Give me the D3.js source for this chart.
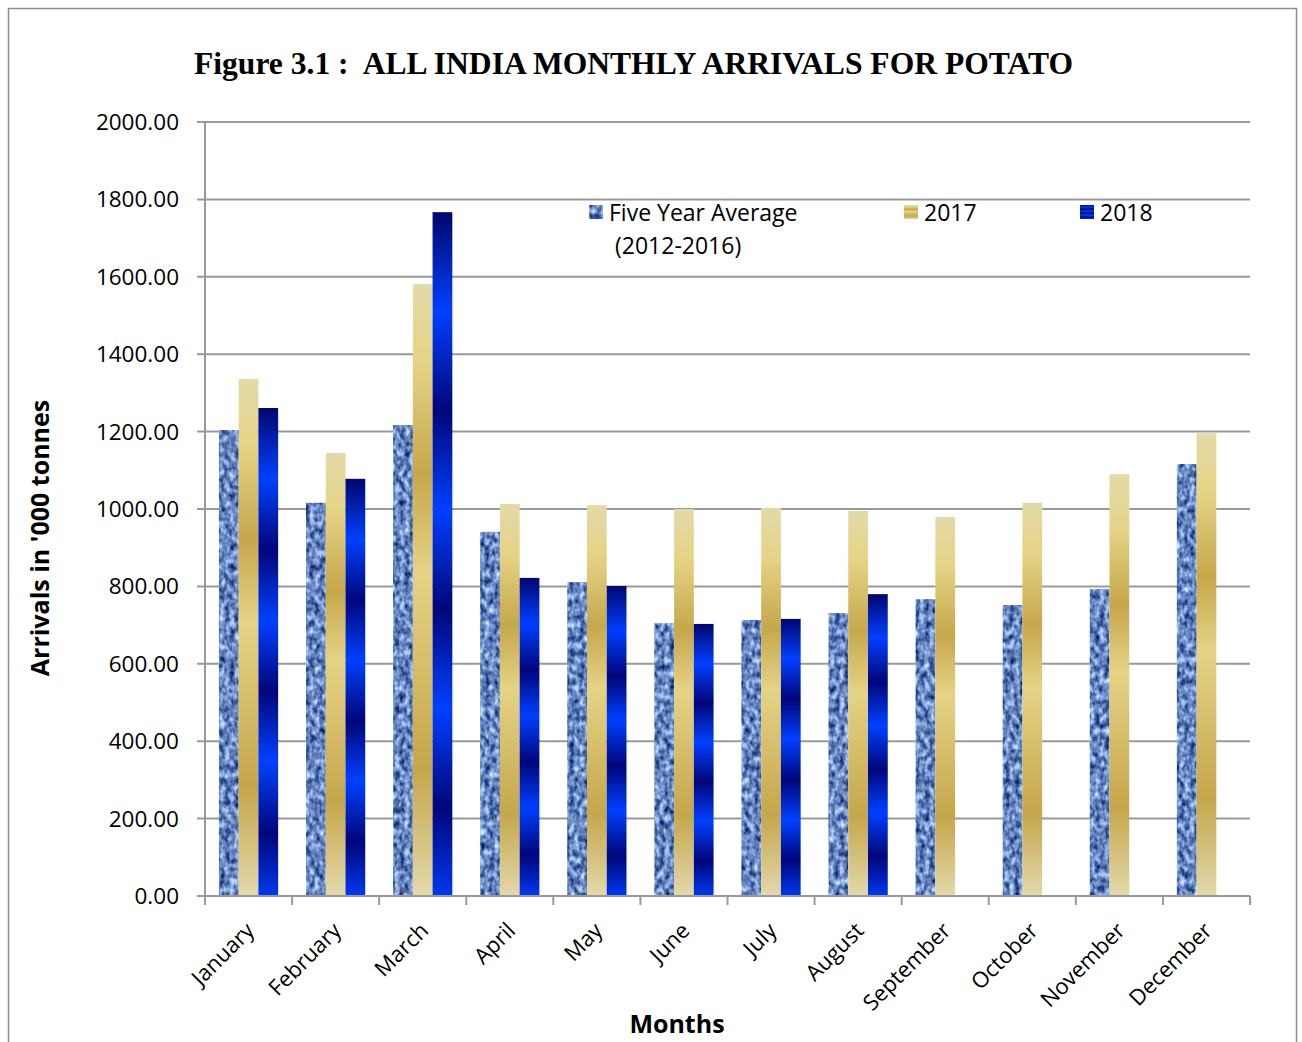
<!DOCTYPE html>
<html>
<head>
<meta charset="utf-8">
<script src="https://cdn.jsdelivr.net/npm/d3@7.9.0/dist/d3.min.js"></script>
<style>
  body { margin: 0; background: #fff; }
  svg { display: block; }
  text { font-family: "Open Sans", "Noto Sans", sans-serif; fill: #000; }
  text.serif { font-family: "Liberation Serif", "Times New Roman", serif; }
</style>
</head>
<body>
<svg id="chart" width="1302" height="1042"></svg>
<script>
const months = ["January", "February", "March", "April", "May", "June",
  "July", "August", "September", "October", "November", "December"];
const fiveYearAvg = [1204, 1016, 1217, 941, 811, 705, 713, 731, 767, 752, 793, 1116];
const arrivals2017 = [1336, 1145, 1581, 1013, 1010, 1000, 1003, 995, 979, 1016, 1090, 1196];
const arrivals2018 = [1261, 1078, 1767, 822, 801, 703, 716, 780, null, null, null, null];
const seriesNames = ["Five Year Average", "2017", "2018"];
const yTicks = [0, 200, 400, 600, 800, 1000, 1200, 1400, 1600, 1800, 2000];

const svg = d3.select("#chart");
const defs = svg.append("defs");

// textured blue for five year average
const tex = defs.append("filter").attr("id", "texture")
  .attr("x", 0).attr("y", 0).attr("width", 1).attr("height", 1)
  .attr("color-interpolation-filters", "sRGB");
tex.append("feTurbulence").attr("type", "fractalNoise")
  .attr("baseFrequency", "0.2 0.14").attr("numOctaves", 2).attr("seed", 3)
  .attr("result", "noise");
tex.append("feColorMatrix").attr("in", "noise").attr("type", "matrix")
  .attr("values", "1.2 0 0 0 -0.2  1.2 0 0 0 -0.08  1.0 0 0 0 0.25  0 0 0 0 1")
  .attr("result", "blue");
tex.append("feComposite").attr("in", "blue").attr("in2", "SourceGraphic").attr("operator", "in");

// 2017 gold gradient
const gold = defs.append("linearGradient").attr("id", "gold")
  .attr("x1", 0).attr("y1", 0).attr("x2", 0).attr("y2", 1);
[[0, "#e3daa9"], [0.13, "#e5d385"], [0.31, "#c6a74c"], [0.47, "#e5d386"],
 [0.79, "#c5a64b"], [1, "#e3d9ab"]].forEach(([o, c]) =>
  gold.append("stop").attr("offset", o).attr("stop-color", c));

// 2018 blue gradient
const blue = defs.append("linearGradient").attr("id", "blue")
  .attr("x1", 0).attr("y1", 0).attr("x2", 0).attr("y2", 1);
[[0, "#00066e"], [0.145, "#0040ff"], [0.29, "#00067a"], [0.435, "#0040ff"],
 [0.58, "#00067a"], [0.725, "#0040ff"], [0.87, "#00067a"], [1, "#0038f0"]].forEach(([o, c]) =>
  blue.append("stop").attr("offset", o).attr("stop-color", c));

// outer frame
svg.append("rect").attr("x", 8.5).attr("y", 8.5).attr("width", 1288).attr("height", 1050)
  .attr("fill", "none").attr("stroke", "#8c8c8c").attr("stroke-width", 1.5);

const plotLeft = 205, plotRight = 1250, plotTop = 122, plotBottom = 896;

const x0 = d3.scaleBand().domain(months).range([plotLeft, plotRight])
  .paddingInner(0.32).paddingOuter(0.16);
const x1 = d3.scaleBand().domain(seriesNames).range([0, x0.bandwidth()]);
const y = d3.scaleLinear().domain([0, 2000]).range([plotBottom, plotTop]);

// gridlines
svg.append("g").selectAll("line").data(yTicks).join("line")
  .attr("x1", plotLeft - 8).attr("x2", plotRight)
  .attr("y1", d => y(d)).attr("y2", d => y(d))
  .attr("stroke", "#999").attr("stroke-width", 2);

// y labels
svg.append("g").selectAll("text").data(yTicks).join("text")
  .attr("x", 179).attr("y", d => y(d) + 8)
  .attr("text-anchor", "end").attr("font-size", 22.5)
  .text(d => d.toFixed(2));

// bars
const series = [
  { name: seriesNames[0], values: fiveYearAvg, fill: "#6f8fcc", filter: "url(#texture)" },
  { name: seriesNames[1], values: arrivals2017, fill: "url(#gold)", filter: null },
  { name: seriesNames[2], values: arrivals2018, fill: "url(#blue)", filter: null }
];
series.forEach(s => {
  svg.append("g").selectAll("rect")
    .data(months.map((m, i) => ({ m, v: s.values[i] })).filter(d => d.v != null))
    .join("rect")
    .attr("x", d => x0(d.m) + x1(s.name))
    .attr("width", x1.bandwidth())
    .attr("y", d => y(d.v))
    .attr("height", d => plotBottom - y(d.v))
    .attr("fill", s.fill)
    .attr("filter", s.filter);
});

// axes lines
svg.append("line").attr("x1", plotLeft).attr("x2", plotLeft).attr("y1", plotTop).attr("y2", plotBottom)
  .attr("stroke", "#999").attr("stroke-width", 2);
svg.append("line").attr("x1", plotLeft).attr("x2", plotRight).attr("y1", plotBottom).attr("y2", plotBottom)
  .attr("stroke", "#999").attr("stroke-width", 2);
const step = x0.step();
svg.append("g").selectAll("line").data(d3.range(months.length + 1)).join("line")
  .attr("x1", i => plotLeft + i * step).attr("x2", i => plotLeft + i * step)
  .attr("y1", plotBottom).attr("y2", plotBottom + 9)
  .attr("stroke", "#999").attr("stroke-width", 2);

// x labels
svg.append("g").selectAll("text").data(months).join("text")
  .attr("transform", d => `translate(${x0(d) + x0.bandwidth() / 2 + 7},${plotBottom + 36}) rotate(-45)`)
  .attr("text-anchor", "end").attr("font-size", 22)
  .text(d => d);

// titles
svg.append("text").attr("class", "serif").attr("x", 194).attr("y", 74)
  .attr("font-weight", "bold").attr("font-size", 31)
  .attr("textLength", 879).attr("lengthAdjust", "spacingAndGlyphs")
  .attr("xml:space", "preserve")
  .text("Figure 3.1 :  ALL INDIA MONTHLY ARRIVALS FOR POTATO");

svg.append("text")
  .attr("transform", `translate(49,${(plotTop + plotBottom) / 2 + 29}) rotate(-90)`)
  .attr("text-anchor", "middle").attr("font-weight", "bold").attr("font-size", 25)
  .text("Arrivals in '000 tonnes");

svg.append("text").attr("x", 677).attr("y", 1033)
  .attr("text-anchor", "middle").attr("font-weight", "bold").attr("font-size", 25)
  .text("Months");

// legend
const legend = [
  { x: 589, fill: "#6f8fcc", filter: "url(#texture)", lines: ["Five Year Average", "(2012-2016)"] },
  { x: 904, fill: "url(#gold)", filter: null, lines: ["2017"] },
  { x: 1080, fill: "url(#blue)", filter: null, lines: ["2018"] }
];
legend.forEach(l => {
  svg.append("rect").attr("x", l.x).attr("y", 205).attr("width", 14).attr("height", 14)
    .attr("fill", l.fill).attr("filter", l.filter);
  l.lines.forEach((t, j) => {
    svg.append("text").attr("x", l.x + 20 + j * 6).attr("y", 221 + j * 33)
      .attr("font-size", 23).text(t);
  });
});
</script>
</body>
</html>
